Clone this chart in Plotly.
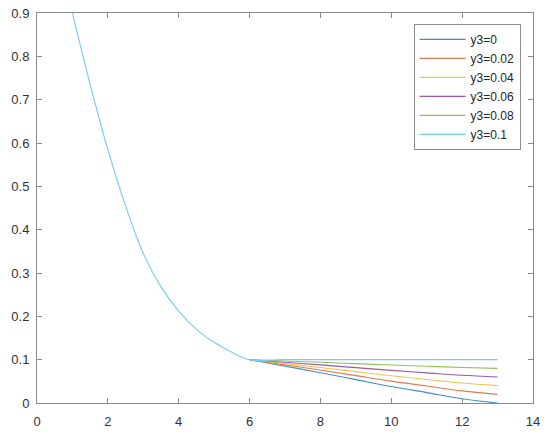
import plotly.graph_objects as go

# shared decaying part (x from 1 to 6)
x_head = [1, 1.5, 2, 2.5, 3, 3.5, 4, 4.5, 5, 5.5, 6]
y_head = [0.9, 0.735, 0.585, 0.455, 0.345, 0.268, 0.212, 0.170, 0.140, 0.117, 0.1]

# tails from x=6 to x=13, one per y3 value
x_tail = [6, 7, 8, 9, 10, 11, 12, 13]
y3_values = [0, 0.02, 0.04, 0.06, 0.08, 0.1]
y_tails = [
    [0.1, 0.085, 0.070, 0.054, 0.038, 0.024, 0.010, 0.0],
    [0.1, 0.088, 0.076, 0.0632, 0.0504, 0.0392, 0.028, 0.02],
    [0.1, 0.091, 0.082, 0.0724, 0.0628, 0.0544, 0.046, 0.04],
    [0.1, 0.094, 0.088, 0.0816, 0.0752, 0.0696, 0.064, 0.06],
    [0.1, 0.097, 0.094, 0.0908, 0.0876, 0.0848, 0.082, 0.08],
    [0.1, 0.1, 0.1, 0.1, 0.1, 0.1, 0.1, 0.1],
]
# MATLAB default colours, a touch lighter like the thin lines in the picture
colors = ["#3d8fca", "#e07a4c", "#f0c453", "#985aa6", "#93bf5b", "#74cdf2"]

AXIS_COLOR = "#8a8a8a"

fig = go.Figure()
for i, (y3, tail, color) in enumerate(zip(y3_values, y_tails, colors)):
    last = i == len(y3_values) - 1
    # only the last series draws the shared curve, so it shows as one colour
    xs = x_head[:-1] + x_tail if last else x_tail
    ys = y_head[:-1] + tail if last else tail
    fig.add_trace(
        go.Scatter(
            x=xs,
            y=ys,
            mode="lines",
            line=dict(color=color, width=1.1, shape="spline", smoothing=1.0),
            name=f"y3={y3:g}",
        )
    )

axis_style = dict(
    showgrid=False,
    zeroline=False,
    showline=True,
    automargin=False,
    linecolor=AXIS_COLOR,
    linewidth=1,
    mirror="ticks",
    ticks="inside",
    ticklen=5,
    tickcolor=AXIS_COLOR,
    tickfont=dict(family="Liberation Sans, Arial", size=13, color="#333333"),
)

fig.update_layout(
    width=550,
    height=437,
    plot_bgcolor="white",
    paper_bgcolor="white",
    margin=dict(l=37, r=17, t=13, b=34),
    xaxis=dict(
        range=[0, 14],
        tickvals=list(range(0, 15, 2)),
        ticklabelstandoff=6,
        **axis_style,
    ),
    yaxis=dict(
        range=[0, 0.9],
        tickvals=[i / 10 for i in range(10)],
        ticktext=["0", "0.1", "0.2", "0.3", "0.4", "0.5", "0.6", "0.7", "0.8", "0.9"],
        ticklabelstandoff=4,
        **axis_style,
    ),
    showlegend=True,
    legend=dict(
        x=0.975,
        y=0.972,
        xanchor="right",
        yanchor="top",
        bgcolor="white",
        bordercolor="#8c8c8c",
        borderwidth=1,
        itemwidth=46,
        font=dict(family="Liberation Sans, Arial", size=12, color="#262626"),
        tracegroupgap=0,
    ),
)

# drop the default 8px body margin so the figure sits at the window corner
fig.write_html(
    "out.html",
    config={"displayModeBar": False},
    post_script="document.body.style.margin = '0';",
)
